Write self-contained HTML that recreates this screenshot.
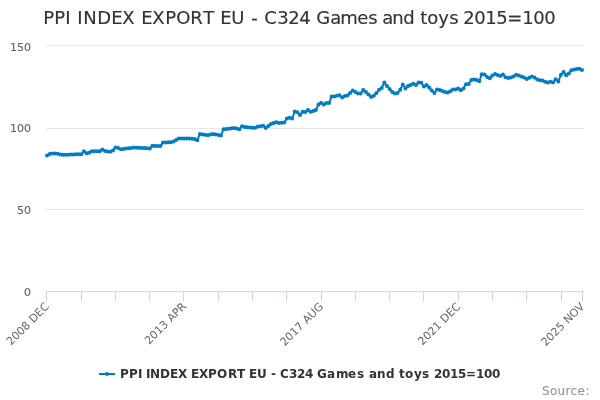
<!DOCTYPE html>
<html><head><meta charset="utf-8"><title>PPI INDEX EXPORT EU - C324 Games and toys 2015=100</title>
<style>
html,body{margin:0;padding:0;background:#fff;}
svg{display:block;will-change:transform;font-family:"DejaVu Sans","Liberation Sans",Verdana,sans-serif;}
</style></head><body>
<svg width="600" height="400" viewBox="0 0 600 400">
<rect x="0" y="0" width="600" height="400" fill="#ffffff"/>
<g><path d="M 46 45.5 L 584 45.5" stroke="#e6e6e6" stroke-width="1" fill="none"/><path d="M 46 128.5 L 584 128.5" stroke="#e6e6e6" stroke-width="1" fill="none"/><path d="M 46 209.5 L 584 209.5" stroke="#e6e6e6" stroke-width="1" fill="none"/></g>
<g><path d="M 46 291.5 L 584 291.5" stroke="#ccd6eb" stroke-width="1" fill="none"/><path d="M 46.5 291.5 L 46.5 301.5" stroke="#ccd6eb" stroke-width="1" fill="none"/><path d="M 81.5 291.5 L 81.5 301.5" stroke="#ccd6eb" stroke-width="1" fill="none"/><path d="M 115.5 291.5 L 115.5 301.5" stroke="#ccd6eb" stroke-width="1" fill="none"/><path d="M 149.5 291.5 L 149.5 301.5" stroke="#ccd6eb" stroke-width="1" fill="none"/><path d="M 183.5 291.5 L 183.5 301.5" stroke="#ccd6eb" stroke-width="1" fill="none"/><path d="M 218.5 291.5 L 218.5 301.5" stroke="#ccd6eb" stroke-width="1" fill="none"/><path d="M 252.5 291.5 L 252.5 301.5" stroke="#ccd6eb" stroke-width="1" fill="none"/><path d="M 286.5 291.5 L 286.5 301.5" stroke="#ccd6eb" stroke-width="1" fill="none"/><path d="M 321.5 291.5 L 321.5 301.5" stroke="#ccd6eb" stroke-width="1" fill="none"/><path d="M 355.5 291.5 L 355.5 301.5" stroke="#ccd6eb" stroke-width="1" fill="none"/><path d="M 389.5 291.5 L 389.5 301.5" stroke="#ccd6eb" stroke-width="1" fill="none"/><path d="M 423.5 291.5 L 423.5 301.5" stroke="#ccd6eb" stroke-width="1" fill="none"/><path d="M 458.5 291.5 L 458.5 301.5" stroke="#ccd6eb" stroke-width="1" fill="none"/><path d="M 492.5 291.5 L 492.5 301.5" stroke="#ccd6eb" stroke-width="1" fill="none"/><path d="M 526.5 291.5 L 526.5 301.5" stroke="#ccd6eb" stroke-width="1" fill="none"/><path d="M 561.5 291.5 L 561.5 301.5" stroke="#ccd6eb" stroke-width="1" fill="none"/><path d="M 582.5 291.5 L 582.5 301.5" stroke="#ccd6eb" stroke-width="1" fill="none"/></g>
<g><path d="M 47.00 155.60 L 49.64 153.90 L 52.27 153.50 L 54.91 153.50 L 57.54 153.70 L 60.18 154.60 L 62.81 154.65 L 65.45 154.70 L 68.08 154.65 L 70.72 154.60 L 73.36 154.40 L 75.99 154.37 L 78.63 154.33 L 81.26 154.30 L 83.90 151.30 L 86.53 153.20 L 89.17 152.80 L 91.80 151.30 L 94.44 151.27 L 97.07 151.23 L 99.71 151.20 L 102.35 149.50 L 104.98 151.00 L 107.62 151.40 L 110.25 151.80 L 112.89 150.50 L 115.52 147.50 L 118.16 148.00 L 120.79 149.30 L 123.43 148.90 L 126.06 148.50 L 128.70 148.20 L 131.34 147.90 L 133.97 147.60 L 136.61 147.70 L 139.24 147.80 L 141.88 147.95 L 144.51 148.10 L 147.15 148.25 L 149.78 148.40 L 152.42 145.80 L 155.06 146.00 L 157.69 146.05 L 160.33 146.10 L 162.96 142.50 L 165.60 142.50 L 168.23 142.35 L 170.87 142.20 L 173.50 141.50 L 176.14 140.00 L 178.78 138.50 L 181.41 138.50 L 184.05 138.50 L 186.68 138.50 L 189.32 138.50 L 191.95 138.75 L 194.59 139.00 L 197.22 140.30 L 199.86 134.00 L 202.49 134.50 L 205.13 134.85 L 207.77 135.20 L 210.40 134.60 L 213.04 134.00 L 215.67 134.50 L 218.31 135.00 L 220.94 135.40 L 223.58 129.30 L 226.21 129.00 L 228.85 128.65 L 231.48 128.30 L 234.12 128.00 L 236.76 128.60 L 239.39 129.20 L 242.03 126.20 L 244.66 127.00 L 247.30 127.25 L 249.93 127.50 L 252.57 127.65 L 255.20 127.80 L 257.84 126.50 L 260.48 126.15 L 263.11 125.80 L 265.75 128.00 L 268.38 126.00 L 271.02 124.00 L 273.65 123.10 L 276.29 122.20 L 278.92 122.90 L 281.56 122.70 L 284.19 122.50 L 286.83 118.50 L 289.47 117.80 L 292.10 118.50 L 294.74 111.50 L 297.37 112.20 L 300.01 115.00 L 302.64 111.80 L 305.28 112.00 L 307.91 110.00 L 310.55 111.80 L 313.19 111.00 L 315.82 110.00 L 318.46 104.50 L 321.09 102.80 L 323.73 104.50 L 326.36 103.00 L 329.00 103.00 L 331.63 96.50 L 334.27 96.50 L 336.90 95.85 L 339.54 95.20 L 342.18 97.50 L 344.81 96.00 L 347.45 95.50 L 350.08 93.00 L 352.72 90.50 L 355.35 92.00 L 357.99 93.50 L 360.62 93.50 L 363.26 90.00 L 365.90 92.00 L 368.53 94.50 L 371.17 97.00 L 373.80 95.80 L 376.44 93.00 L 379.07 89.80 L 381.71 88.00 L 384.34 82.50 L 386.98 86.00 L 389.62 89.00 L 392.25 92.00 L 394.89 93.50 L 397.52 93.00 L 400.16 89.80 L 402.79 84.50 L 405.43 88.50 L 408.06 86.00 L 410.70 85.00 L 413.33 83.80 L 415.97 85.00 L 418.61 82.50 L 421.24 82.80 L 423.88 86.50 L 426.51 85.00 L 429.15 87.50 L 431.78 90.50 L 434.42 93.00 L 437.05 89.50 L 439.69 90.00 L 442.32 91.00 L 444.96 92.00 L 447.60 92.50 L 450.23 91.20 L 452.87 89.50 L 455.50 89.50 L 458.14 88.50 L 460.77 90.20 L 463.41 88.50 L 466.04 84.30 L 468.68 84.00 L 471.32 80.00 L 473.95 79.50 L 476.59 80.00 L 479.22 81.20 L 481.86 74.30 L 484.49 74.50 L 487.13 77.00 L 489.76 78.20 L 492.40 75.50 L 495.03 74.00 L 497.67 75.00 L 500.31 76.00 L 502.94 74.50 L 505.58 77.20 L 508.21 78.00 L 510.85 77.50 L 513.48 76.50 L 516.12 74.80 L 518.75 75.50 L 521.39 76.50 L 524.03 77.50 L 526.66 79.00 L 529.30 77.80 L 531.93 76.50 L 534.57 77.50 L 537.20 79.50 L 539.84 80.20 L 542.47 80.50 L 545.11 81.80 L 547.75 82.50 L 550.38 81.80 L 553.02 82.50 L 555.65 79.20 L 558.29 81.50 L 560.92 74.80 L 563.56 72.00 L 566.19 75.20 L 568.83 73.50 L 571.46 70.20 L 574.10 69.50 L 576.74 69.00 L 579.37 68.70 L 582.01 70.00" fill="none" stroke="#027dc4" stroke-width="2" stroke-linejoin="round" stroke-linecap="round"/></g>
<g fill="#027dc4"><circle cx="47.00" cy="155.60" r="2"/><circle cx="49.64" cy="153.90" r="2"/><circle cx="52.27" cy="153.50" r="2"/><circle cx="54.91" cy="153.50" r="2"/><circle cx="57.54" cy="153.70" r="2"/><circle cx="60.18" cy="154.60" r="2"/><circle cx="62.81" cy="154.65" r="2"/><circle cx="65.45" cy="154.70" r="2"/><circle cx="68.08" cy="154.65" r="2"/><circle cx="70.72" cy="154.60" r="2"/><circle cx="73.36" cy="154.40" r="2"/><circle cx="75.99" cy="154.37" r="2"/><circle cx="78.63" cy="154.33" r="2"/><circle cx="81.26" cy="154.30" r="2"/><circle cx="83.90" cy="151.30" r="2"/><circle cx="86.53" cy="153.20" r="2"/><circle cx="89.17" cy="152.80" r="2"/><circle cx="91.80" cy="151.30" r="2"/><circle cx="94.44" cy="151.27" r="2"/><circle cx="97.07" cy="151.23" r="2"/><circle cx="99.71" cy="151.20" r="2"/><circle cx="102.35" cy="149.50" r="2"/><circle cx="104.98" cy="151.00" r="2"/><circle cx="107.62" cy="151.40" r="2"/><circle cx="110.25" cy="151.80" r="2"/><circle cx="112.89" cy="150.50" r="2"/><circle cx="115.52" cy="147.50" r="2"/><circle cx="118.16" cy="148.00" r="2"/><circle cx="120.79" cy="149.30" r="2"/><circle cx="123.43" cy="148.90" r="2"/><circle cx="126.06" cy="148.50" r="2"/><circle cx="128.70" cy="148.20" r="2"/><circle cx="131.34" cy="147.90" r="2"/><circle cx="133.97" cy="147.60" r="2"/><circle cx="136.61" cy="147.70" r="2"/><circle cx="139.24" cy="147.80" r="2"/><circle cx="141.88" cy="147.95" r="2"/><circle cx="144.51" cy="148.10" r="2"/><circle cx="147.15" cy="148.25" r="2"/><circle cx="149.78" cy="148.40" r="2"/><circle cx="152.42" cy="145.80" r="2"/><circle cx="155.06" cy="146.00" r="2"/><circle cx="157.69" cy="146.05" r="2"/><circle cx="160.33" cy="146.10" r="2"/><circle cx="162.96" cy="142.50" r="2"/><circle cx="165.60" cy="142.50" r="2"/><circle cx="168.23" cy="142.35" r="2"/><circle cx="170.87" cy="142.20" r="2"/><circle cx="173.50" cy="141.50" r="2"/><circle cx="176.14" cy="140.00" r="2"/><circle cx="178.78" cy="138.50" r="2"/><circle cx="181.41" cy="138.50" r="2"/><circle cx="184.05" cy="138.50" r="2"/><circle cx="186.68" cy="138.50" r="2"/><circle cx="189.32" cy="138.50" r="2"/><circle cx="191.95" cy="138.75" r="2"/><circle cx="194.59" cy="139.00" r="2"/><circle cx="197.22" cy="140.30" r="2"/><circle cx="199.86" cy="134.00" r="2"/><circle cx="202.49" cy="134.50" r="2"/><circle cx="205.13" cy="134.85" r="2"/><circle cx="207.77" cy="135.20" r="2"/><circle cx="210.40" cy="134.60" r="2"/><circle cx="213.04" cy="134.00" r="2"/><circle cx="215.67" cy="134.50" r="2"/><circle cx="218.31" cy="135.00" r="2"/><circle cx="220.94" cy="135.40" r="2"/><circle cx="223.58" cy="129.30" r="2"/><circle cx="226.21" cy="129.00" r="2"/><circle cx="228.85" cy="128.65" r="2"/><circle cx="231.48" cy="128.30" r="2"/><circle cx="234.12" cy="128.00" r="2"/><circle cx="236.76" cy="128.60" r="2"/><circle cx="239.39" cy="129.20" r="2"/><circle cx="242.03" cy="126.20" r="2"/><circle cx="244.66" cy="127.00" r="2"/><circle cx="247.30" cy="127.25" r="2"/><circle cx="249.93" cy="127.50" r="2"/><circle cx="252.57" cy="127.65" r="2"/><circle cx="255.20" cy="127.80" r="2"/><circle cx="257.84" cy="126.50" r="2"/><circle cx="260.48" cy="126.15" r="2"/><circle cx="263.11" cy="125.80" r="2"/><circle cx="265.75" cy="128.00" r="2"/><circle cx="268.38" cy="126.00" r="2"/><circle cx="271.02" cy="124.00" r="2"/><circle cx="273.65" cy="123.10" r="2"/><circle cx="276.29" cy="122.20" r="2"/><circle cx="278.92" cy="122.90" r="2"/><circle cx="281.56" cy="122.70" r="2"/><circle cx="284.19" cy="122.50" r="2"/><circle cx="286.83" cy="118.50" r="2"/><circle cx="289.47" cy="117.80" r="2"/><circle cx="292.10" cy="118.50" r="2"/><circle cx="294.74" cy="111.50" r="2"/><circle cx="297.37" cy="112.20" r="2"/><circle cx="300.01" cy="115.00" r="2"/><circle cx="302.64" cy="111.80" r="2"/><circle cx="305.28" cy="112.00" r="2"/><circle cx="307.91" cy="110.00" r="2"/><circle cx="310.55" cy="111.80" r="2"/><circle cx="313.19" cy="111.00" r="2"/><circle cx="315.82" cy="110.00" r="2"/><circle cx="318.46" cy="104.50" r="2"/><circle cx="321.09" cy="102.80" r="2"/><circle cx="323.73" cy="104.50" r="2"/><circle cx="326.36" cy="103.00" r="2"/><circle cx="329.00" cy="103.00" r="2"/><circle cx="331.63" cy="96.50" r="2"/><circle cx="334.27" cy="96.50" r="2"/><circle cx="336.90" cy="95.85" r="2"/><circle cx="339.54" cy="95.20" r="2"/><circle cx="342.18" cy="97.50" r="2"/><circle cx="344.81" cy="96.00" r="2"/><circle cx="347.45" cy="95.50" r="2"/><circle cx="350.08" cy="93.00" r="2"/><circle cx="352.72" cy="90.50" r="2"/><circle cx="355.35" cy="92.00" r="2"/><circle cx="357.99" cy="93.50" r="2"/><circle cx="360.62" cy="93.50" r="2"/><circle cx="363.26" cy="90.00" r="2"/><circle cx="365.90" cy="92.00" r="2"/><circle cx="368.53" cy="94.50" r="2"/><circle cx="371.17" cy="97.00" r="2"/><circle cx="373.80" cy="95.80" r="2"/><circle cx="376.44" cy="93.00" r="2"/><circle cx="379.07" cy="89.80" r="2"/><circle cx="381.71" cy="88.00" r="2"/><circle cx="384.34" cy="82.50" r="2"/><circle cx="386.98" cy="86.00" r="2"/><circle cx="389.62" cy="89.00" r="2"/><circle cx="392.25" cy="92.00" r="2"/><circle cx="394.89" cy="93.50" r="2"/><circle cx="397.52" cy="93.00" r="2"/><circle cx="400.16" cy="89.80" r="2"/><circle cx="402.79" cy="84.50" r="2"/><circle cx="405.43" cy="88.50" r="2"/><circle cx="408.06" cy="86.00" r="2"/><circle cx="410.70" cy="85.00" r="2"/><circle cx="413.33" cy="83.80" r="2"/><circle cx="415.97" cy="85.00" r="2"/><circle cx="418.61" cy="82.50" r="2"/><circle cx="421.24" cy="82.80" r="2"/><circle cx="423.88" cy="86.50" r="2"/><circle cx="426.51" cy="85.00" r="2"/><circle cx="429.15" cy="87.50" r="2"/><circle cx="431.78" cy="90.50" r="2"/><circle cx="434.42" cy="93.00" r="2"/><circle cx="437.05" cy="89.50" r="2"/><circle cx="439.69" cy="90.00" r="2"/><circle cx="442.32" cy="91.00" r="2"/><circle cx="444.96" cy="92.00" r="2"/><circle cx="447.60" cy="92.50" r="2"/><circle cx="450.23" cy="91.20" r="2"/><circle cx="452.87" cy="89.50" r="2"/><circle cx="455.50" cy="89.50" r="2"/><circle cx="458.14" cy="88.50" r="2"/><circle cx="460.77" cy="90.20" r="2"/><circle cx="463.41" cy="88.50" r="2"/><circle cx="466.04" cy="84.30" r="2"/><circle cx="468.68" cy="84.00" r="2"/><circle cx="471.32" cy="80.00" r="2"/><circle cx="473.95" cy="79.50" r="2"/><circle cx="476.59" cy="80.00" r="2"/><circle cx="479.22" cy="81.20" r="2"/><circle cx="481.86" cy="74.30" r="2"/><circle cx="484.49" cy="74.50" r="2"/><circle cx="487.13" cy="77.00" r="2"/><circle cx="489.76" cy="78.20" r="2"/><circle cx="492.40" cy="75.50" r="2"/><circle cx="495.03" cy="74.00" r="2"/><circle cx="497.67" cy="75.00" r="2"/><circle cx="500.31" cy="76.00" r="2"/><circle cx="502.94" cy="74.50" r="2"/><circle cx="505.58" cy="77.20" r="2"/><circle cx="508.21" cy="78.00" r="2"/><circle cx="510.85" cy="77.50" r="2"/><circle cx="513.48" cy="76.50" r="2"/><circle cx="516.12" cy="74.80" r="2"/><circle cx="518.75" cy="75.50" r="2"/><circle cx="521.39" cy="76.50" r="2"/><circle cx="524.03" cy="77.50" r="2"/><circle cx="526.66" cy="79.00" r="2"/><circle cx="529.30" cy="77.80" r="2"/><circle cx="531.93" cy="76.50" r="2"/><circle cx="534.57" cy="77.50" r="2"/><circle cx="537.20" cy="79.50" r="2"/><circle cx="539.84" cy="80.20" r="2"/><circle cx="542.47" cy="80.50" r="2"/><circle cx="545.11" cy="81.80" r="2"/><circle cx="547.75" cy="82.50" r="2"/><circle cx="550.38" cy="81.80" r="2"/><circle cx="553.02" cy="82.50" r="2"/><circle cx="555.65" cy="79.20" r="2"/><circle cx="558.29" cy="81.50" r="2"/><circle cx="560.92" cy="74.80" r="2"/><circle cx="563.56" cy="72.00" r="2"/><circle cx="566.19" cy="75.20" r="2"/><circle cx="568.83" cy="73.50" r="2"/><circle cx="571.46" cy="70.20" r="2"/><circle cx="574.10" cy="69.50" r="2"/><circle cx="576.74" cy="69.00" r="2"/><circle cx="579.37" cy="68.70" r="2"/><circle cx="582.01" cy="70.00" r="2"/></g>
<text x="43.2 54.2 65.2 71.2 77.2 83.2 97.2 111.2 122.2 135.2 141.2 152.2 165.2 176.2 190.2 203.2 214.2 220.2 231.2 245.2 251.2 258.2 264.2 277.2 288.2 299.2 310.2 316.2 330.2 340.2 357.2 368.2 376.2 382.2 392.2 403.2 414.2 420.2 427.2 438.2 449.2 457.2 463.2 474.2 485.2 496.2 507.2 522.2 533.2 544.2" y="24" style="font-size:18px;fill:#333333;stroke:#333333;stroke-width:0.15px">PPI INDEX EXPORT EU - C324 Games and toys 2015=100</text>
<g style="font-size:11px;fill:#666666"><text x="49.72" y="307.2" text-anchor="end" transform="rotate(-45 49.72 307.2)">2008 DEC</text><text x="186.86" y="307.2" text-anchor="end" transform="rotate(-45 186.86 307.2)">2013 APR</text><text x="323.99" y="307.2" text-anchor="end" transform="rotate(-45 323.99 307.2)">2017 AUG</text><text x="461.13" y="307.2" text-anchor="end" transform="rotate(-45 461.13 307.2)">2021 DEC</text><text x="585.08" y="307.2" text-anchor="end" transform="rotate(-45 585.08 307.2)">2025 NOV</text></g>
<g style="font-size:11px;fill:#666666"><text x="10 17 24" y="51" style="font-size:11px;fill:#666666;stroke:#666666;stroke-width:0.15px">150</text><text x="10 17 24" y="132" style="font-size:11px;fill:#666666;stroke:#666666;stroke-width:0.15px">100</text><text x="17 24" y="214" style="font-size:11px;fill:#666666;stroke:#666666;stroke-width:0.15px">50</text><text x="24" y="296" style="font-size:11px;fill:#666666;stroke:#666666;stroke-width:0.15px">0</text></g>
<g>
<path d="M 99 374 L 115 374" stroke="#027dc4" stroke-width="2" fill="none"/>
<circle cx="107" cy="374" r="2" fill="#027dc4"/>
<text x="120 129 138 142 146 150 160 170 178 187 191 199 208 217 228 237 245 249 257 267 271 276 280 289 297 305 313 317 327 336 348 357 365 369 377 386 395 399 405 414 422 430 434 442 450 458 466 476 484 492" y="378" style="font-size:12px;font-weight:bold;fill:#333333;stroke:#333333;stroke-width:0px">PPI INDEX EXPORT EU - C324 Games and toys 2015=100</text>
</g>
<text x="542 550 557.4 565.4 570.4 577.4 585.4" y="395" style="font-size:12px;fill:#999999;stroke:#999999;stroke-width:0.15px">Source:</text>
</svg>
</body></html>
